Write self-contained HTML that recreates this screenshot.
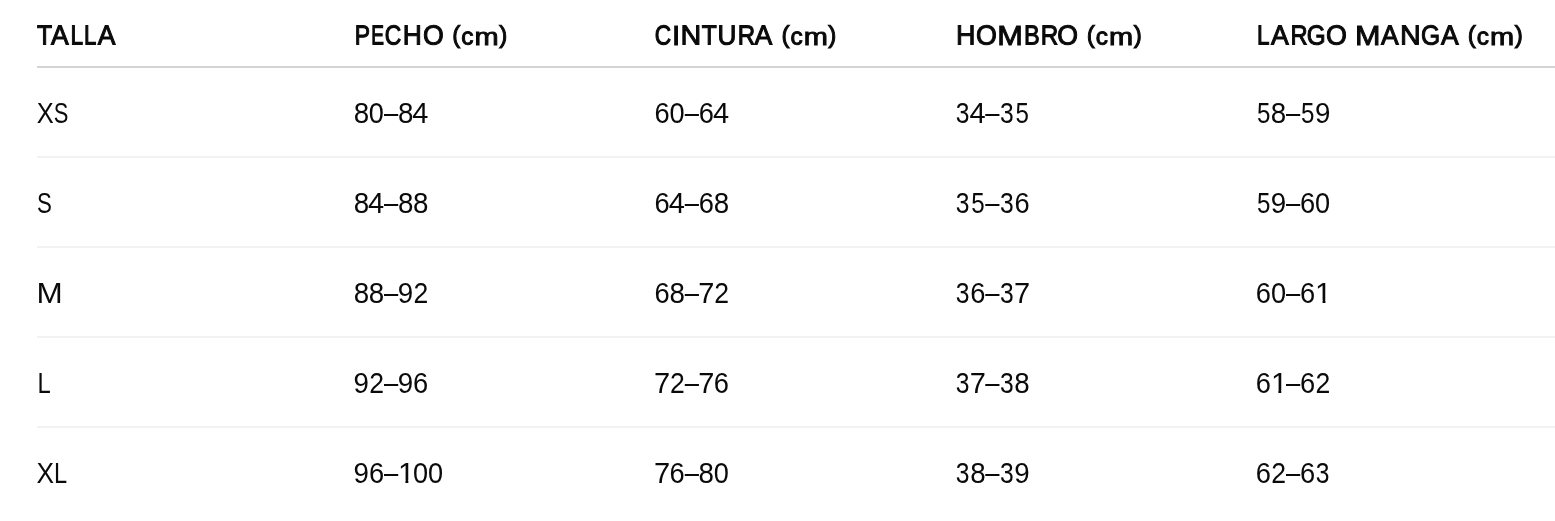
<!DOCTYPE html>
<html><head><meta charset="utf-8">
<style>
html,body{margin:0;padding:0;background:#fff;}
body{width:1555px;height:521px;overflow:hidden;position:relative;font-family:"Liberation Sans",sans-serif;color:#0a0a0a;}
.h{font-weight:bold;}
text{white-space:pre;}
.s{stroke:#0a0a0a;stroke-width:1.0px;vector-effect:non-scaling-stroke;stroke-linejoin:miter;}
.l{position:absolute;left:37px;right:0;background:#f2f2f2;height:2px;}
</style></head><body>
<div class="l" style="top:66px;background:#d4d4d4"></div>
<div class="l" style="top:156px"></div>
<div class="l" style="top:246px"></div>
<div class="l" style="top:336px"></div>
<div class="l" style="top:426px"></div>
<svg width="1555" height="521" viewBox="0 0 1555 521" style="position:absolute;left:0;top:0;will-change:transform" font-family="Liberation Sans, sans-serif" fill="#0a0a0a">
<defs><clipPath id="c230"><rect x="1315.96" y="279" width="11.40" height="21"/><rect x="1322.54" y="300" width="2.92" height="4"/></clipPath><clipPath id="c331"><rect x="1271.78" y="369" width="11.40" height="21"/><rect x="1278.36" y="390" width="2.92" height="4"/></clipPath><clipPath id="c402"><rect x="398.83" y="459" width="11.40" height="21"/><rect x="405.41" y="480" width="2.92" height="4"/></clipPath></defs>
<text class="s" font-size="27.54" transform="matrix(0.8999,0.0005,0,1,37.08,44.50)">T</text><text class="s" font-size="27.54" transform="matrix(0.9629,0.0005,0,1,51.07,44.50)">A</text><text class="s" font-size="27.54" transform="matrix(0.8242,0.0005,0,1,70.48,44.50)">L</text><text class="s" font-size="27.54" transform="matrix(0.8079,0.0005,0,1,84.02,44.50)">L</text><text class="s" font-size="27.54" transform="matrix(0.9629,0.0005,0,1,97.87,44.50)">A</text>
<text class="s" font-size="27.54" transform="matrix(0.8349,0.0005,0,1,354.76,44.50)">P</text><text class="s" font-size="27.54" transform="matrix(0.6930,0.0005,0,1,371.17,44.50)">E</text><text class="s" font-size="27.54" transform="matrix(0.8301,0.0005,0,1,384.86,44.50)">C</text><text class="s" font-size="27.54" transform="matrix(0.9598,0.0005,0,1,402.69,44.50)">H</text><text class="s" font-size="27.54" transform="matrix(0.9702,0.0005,0,1,422.90,44.50)">O</text>
<text class="s" font-size="24.39" transform="matrix(0.9904,0.0005,0,1,452.25,42.98)">(</text><text class="s" font-size="24.07" transform="matrix(1.0143,0.0005,0,1,461.20,44.50)">c</text><text class="s" font-size="24.07" transform="matrix(1.2046,0.0005,0,1,474.51,44.50)">m</text><text class="s" font-size="24.39" transform="matrix(0.9937,0.0005,0,1,499.16,42.98)">)</text>
<text class="s" font-size="27.54" transform="matrix(0.8243,0.0005,0,1,654.77,44.50)">C</text><text class="s" font-size="27.54" transform="matrix(1.0704,0.0005,0,1,672.05,44.50)">I</text><text class="s" font-size="27.54" transform="matrix(1.0441,0.0005,0,1,680.40,44.50)">N</text><text class="s" font-size="27.54" transform="matrix(0.8934,0.0005,0,1,701.68,44.50)">T</text><text class="s" font-size="27.54" transform="matrix(0.9493,0.0005,0,1,717.54,44.50)">U</text><text class="s" font-size="27.54" transform="matrix(0.8740,0.0005,0,1,737.87,44.50)">R</text><text class="s" font-size="27.54" transform="matrix(0.9684,0.0005,0,1,754.47,44.50)">A</text>
<text class="s" font-size="24.39" transform="matrix(0.9904,0.0005,0,1,781.45,42.98)">(</text><text class="s" font-size="24.07" transform="matrix(1.0143,0.0005,0,1,790.40,44.50)">c</text><text class="s" font-size="24.07" transform="matrix(1.2046,0.0005,0,1,803.72,44.50)">m</text><text class="s" font-size="24.39" transform="matrix(0.9937,0.0005,0,1,828.36,42.98)">)</text>
<text class="s" font-size="27.54" transform="matrix(0.9792,0.0005,0,1,956.04,44.50)">H</text><text class="s" font-size="27.54" transform="matrix(0.9755,0.0005,0,1,976.09,44.50)">O</text><text class="s" font-size="27.54" transform="matrix(1.1166,0.0005,0,1,997.34,44.50)">M</text><text class="s" font-size="27.54" transform="matrix(0.8553,0.0005,0,1,1024.02,44.50)">B</text><text class="s" font-size="27.54" transform="matrix(0.8802,0.0005,0,1,1040.66,44.50)">R</text><text class="s" font-size="27.54" transform="matrix(0.9702,0.0005,0,1,1057.30,44.50)">O</text>
<text class="s" font-size="24.39" transform="matrix(0.9904,0.0005,0,1,1086.85,42.98)">(</text><text class="s" font-size="24.07" transform="matrix(1.0143,0.0005,0,1,1095.80,44.50)">c</text><text class="s" font-size="24.07" transform="matrix(1.2046,0.0005,0,1,1109.12,44.50)">m</text><text class="s" font-size="24.39" transform="matrix(0.9937,0.0005,0,1,1133.76,42.98)">)</text>
<text class="s" font-size="27.54" transform="matrix(0.8161,0.0005,0,1,1256.90,44.50)">L</text><text class="s" font-size="27.54" transform="matrix(0.9684,0.0005,0,1,1270.97,44.50)">A</text><text class="s" font-size="27.54" transform="matrix(0.8617,0.0005,0,1,1290.50,44.50)">R</text><text class="s" font-size="27.54" transform="matrix(0.8816,0.0005,0,1,1306.69,44.50)">G</text><text class="s" font-size="27.54" transform="matrix(0.9755,0.0005,0,1,1326.09,44.50)">O</text>
<text class="s" font-size="27.54" transform="matrix(1.1112,0.0005,0,1,1355.05,44.50)">M</text><text class="s" font-size="27.54" transform="matrix(0.9629,0.0005,0,1,1381.07,44.50)">A</text><text class="s" font-size="27.54" transform="matrix(1.0441,0.0005,0,1,1400.00,44.50)">N</text><text class="s" font-size="27.54" transform="matrix(0.8926,0.0005,0,1,1420.97,44.50)">G</text><text class="s" font-size="27.54" transform="matrix(0.9629,0.0005,0,1,1440.97,44.50)">A</text>
<text class="s" font-size="24.39" transform="matrix(0.9904,0.0005,0,1,1467.75,42.98)">(</text><text class="s" font-size="24.07" transform="matrix(1.0143,0.0005,0,1,1476.70,44.50)">c</text><text class="s" font-size="24.07" transform="matrix(1.2046,0.0005,0,1,1490.02,44.50)">m</text><text class="s" font-size="24.39" transform="matrix(0.9937,0.0005,0,1,1514.66,42.98)">)</text>
<text class="d" font-size="29.00" transform="translate(36.76,123) scale(0.8788,1)">X</text><text class="d" font-size="29.00" transform="translate(53.71,123) scale(0.7556,1)">S</text>
<text class="d" font-size="29.0" transform="translate(353.70,123) scale(0.9574,1)">8</text><text class="d" font-size="29.0" transform="translate(368.85,123) scale(0.9365,1)">0</text><text class="d" font-size="29.0" transform="translate(383.98,123) scale(0.8823,1)">–</text><text class="d" font-size="29.0" transform="translate(397.88,123) scale(0.9574,1)">8</text><text class="d" font-size="29.0" transform="translate(412.19,123) scale(1.0000,1)">4</text>
<text class="d" font-size="29.0" transform="translate(654.47,123) scale(0.9408,1)">6</text><text class="d" font-size="29.0" transform="translate(669.53,123) scale(0.9365,1)">0</text><text class="d" font-size="29.0" transform="translate(684.66,123) scale(0.8823,1)">–</text><text class="d" font-size="29.0" transform="translate(698.65,123) scale(0.9408,1)">6</text><text class="d" font-size="29.0" transform="translate(712.88,123) scale(1.0000,1)">4</text>
<text class="d" font-size="29.0" transform="translate(955.82,123) scale(0.8511,1)">3</text><text class="d" font-size="29.0" transform="translate(969.38,123) scale(1.0000,1)">4</text><text class="d" font-size="29.0" transform="translate(985.34,123) scale(0.8823,1)">–</text><text class="d" font-size="29.0" transform="translate(1000.00,123) scale(0.8511,1)">3</text><text class="d" font-size="29.0" transform="translate(1015.52,123) scale(0.8312,1)">5</text>
<text class="d" font-size="29.0" transform="translate(1256.93,123) scale(0.8312,1)">5</text><text class="d" font-size="29.0" transform="translate(1270.83,123) scale(0.9574,1)">8</text><text class="d" font-size="29.0" transform="translate(1286.02,123) scale(0.8823,1)">–</text><text class="d" font-size="29.0" transform="translate(1301.11,123) scale(0.8312,1)">5</text><text class="d" font-size="29.0" transform="translate(1314.91,123) scale(0.9566,1)">9</text>
<text class="d" font-size="29.00" transform="translate(37.00,213) scale(0.7676,1)">S</text>
<text class="d" font-size="29.0" transform="translate(353.70,213) scale(0.9574,1)">8</text><text class="d" font-size="29.0" transform="translate(368.01,213) scale(1.0000,1)">4</text><text class="d" font-size="29.0" transform="translate(383.98,213) scale(0.8823,1)">–</text><text class="d" font-size="29.0" transform="translate(397.88,213) scale(0.9574,1)">8</text><text class="d" font-size="29.0" transform="translate(412.97,213) scale(0.9574,1)">8</text>
<text class="d" font-size="29.0" transform="translate(654.47,213) scale(0.9408,1)">6</text><text class="d" font-size="29.0" transform="translate(668.70,213) scale(1.0000,1)">4</text><text class="d" font-size="29.0" transform="translate(684.66,213) scale(0.8823,1)">–</text><text class="d" font-size="29.0" transform="translate(698.65,213) scale(0.9408,1)">6</text><text class="d" font-size="29.0" transform="translate(713.65,213) scale(0.9574,1)">8</text>
<text class="d" font-size="29.0" transform="translate(955.82,213) scale(0.8511,1)">3</text><text class="d" font-size="29.0" transform="translate(971.34,213) scale(0.8312,1)">5</text><text class="d" font-size="29.0" transform="translate(985.34,213) scale(0.8823,1)">–</text><text class="d" font-size="29.0" transform="translate(1000.00,213) scale(0.8511,1)">3</text><text class="d" font-size="29.0" transform="translate(1014.42,213) scale(0.9408,1)">6</text>
<text class="d" font-size="29.0" transform="translate(1256.93,213) scale(0.8312,1)">5</text><text class="d" font-size="29.0" transform="translate(1270.73,213) scale(0.9566,1)">9</text><text class="d" font-size="29.0" transform="translate(1286.02,213) scale(0.8823,1)">–</text><text class="d" font-size="29.0" transform="translate(1300.01,213) scale(0.9408,1)">6</text><text class="d" font-size="29.0" transform="translate(1315.07,213) scale(0.9365,1)">0</text>
<text class="d" font-size="29.00" transform="translate(36.48,303) scale(1.0859,1)">M</text>
<text class="d" font-size="29.0" transform="translate(353.70,303) scale(0.9574,1)">8</text><text class="d" font-size="29.0" transform="translate(368.79,303) scale(0.9574,1)">8</text><text class="d" font-size="29.0" transform="translate(383.98,303) scale(0.8823,1)">–</text><text class="d" font-size="29.0" transform="translate(397.78,303) scale(0.9566,1)">9</text><text class="d" font-size="29.0" transform="translate(413.49,303) scale(0.9170,1)">2</text>
<text class="d" font-size="29.0" transform="translate(654.47,303) scale(0.9408,1)">6</text><text class="d" font-size="29.0" transform="translate(669.47,303) scale(0.9574,1)">8</text><text class="d" font-size="29.0" transform="translate(684.66,303) scale(0.8823,1)">–</text><text class="d" font-size="29.0" transform="translate(698.16,303) scale(1.0004,1)">7</text><text class="d" font-size="29.0" transform="translate(714.17,303) scale(0.9170,1)">2</text>
<text class="d" font-size="29.0" transform="translate(955.82,303) scale(0.8511,1)">3</text><text class="d" font-size="29.0" transform="translate(970.24,303) scale(0.9408,1)">6</text><text class="d" font-size="29.0" transform="translate(985.34,303) scale(0.8823,1)">–</text><text class="d" font-size="29.0" transform="translate(1000.00,303) scale(0.8511,1)">3</text><text class="d" font-size="29.0" transform="translate(1013.93,303) scale(1.0004,1)">7</text>
<text class="d" font-size="29.0" transform="translate(1255.83,303) scale(0.9408,1)">6</text><text class="d" font-size="29.0" transform="translate(1270.89,303) scale(0.9365,1)">0</text><text class="d" font-size="29.0" transform="translate(1286.02,303) scale(0.8823,1)">–</text><text class="d" font-size="29.0" transform="translate(1300.01,303) scale(0.9408,1)">6</text><g clip-path="url(#c230)"><text class="d" font-size="29.0" transform="translate(1315.09,303) scale(1.0415,1)">1</text></g>
<text class="d" font-size="29.00" transform="translate(37.39,393) scale(0.8214,1)">L</text>
<text class="d" font-size="29.0" transform="translate(353.60,393) scale(0.9566,1)">9</text><text class="d" font-size="29.0" transform="translate(369.31,393) scale(0.9170,1)">2</text><text class="d" font-size="29.0" transform="translate(383.98,393) scale(0.8823,1)">–</text><text class="d" font-size="29.0" transform="translate(397.78,393) scale(0.9566,1)">9</text><text class="d" font-size="29.0" transform="translate(413.06,393) scale(0.9408,1)">6</text>
<text class="d" font-size="29.0" transform="translate(653.98,393) scale(1.0004,1)">7</text><text class="d" font-size="29.0" transform="translate(669.99,393) scale(0.9170,1)">2</text><text class="d" font-size="29.0" transform="translate(684.66,393) scale(0.8823,1)">–</text><text class="d" font-size="29.0" transform="translate(698.16,393) scale(1.0004,1)">7</text><text class="d" font-size="29.0" transform="translate(713.74,393) scale(0.9408,1)">6</text>
<text class="d" font-size="29.0" transform="translate(955.82,393) scale(0.8511,1)">3</text><text class="d" font-size="29.0" transform="translate(969.75,393) scale(1.0004,1)">7</text><text class="d" font-size="29.0" transform="translate(985.34,393) scale(0.8823,1)">–</text><text class="d" font-size="29.0" transform="translate(1000.00,393) scale(0.8511,1)">3</text><text class="d" font-size="29.0" transform="translate(1014.33,393) scale(0.9574,1)">8</text>
<text class="d" font-size="29.0" transform="translate(1255.83,393) scale(0.9408,1)">6</text><g clip-path="url(#c331)"><text class="d" font-size="29.0" transform="translate(1270.91,393) scale(1.0415,1)">1</text></g><text class="d" font-size="29.0" transform="translate(1286.02,393) scale(0.8823,1)">–</text><text class="d" font-size="29.0" transform="translate(1300.01,393) scale(0.9408,1)">6</text><text class="d" font-size="29.0" transform="translate(1315.53,393) scale(0.9170,1)">2</text>
<text class="d" font-size="29.00" transform="translate(36.44,483) scale(0.9066,1)">X</text><text class="d" font-size="29.00" transform="translate(53.91,483) scale(0.8136,1)">L</text>
<text class="d" font-size="29.0" transform="translate(353.60,483) scale(0.9566,1)">9</text><text class="d" font-size="29.0" transform="translate(368.88,483) scale(0.9408,1)">6</text><text class="d" font-size="29.0" transform="translate(383.98,483) scale(0.8823,1)">–</text><g clip-path="url(#c402)"><text class="d" font-size="29.0" transform="translate(397.96,483) scale(1.0415,1)">1</text></g><text class="d" font-size="29.0" transform="translate(413.03,483) scale(0.9365,1)">0</text><text class="d" font-size="29.0" transform="translate(428.12,483) scale(0.9365,1)">0</text>
<text class="d" font-size="29.0" transform="translate(653.98,483) scale(1.0004,1)">7</text><text class="d" font-size="29.0" transform="translate(669.56,483) scale(0.9408,1)">6</text><text class="d" font-size="29.0" transform="translate(684.66,483) scale(0.8823,1)">–</text><text class="d" font-size="29.0" transform="translate(698.56,483) scale(0.9574,1)">8</text><text class="d" font-size="29.0" transform="translate(713.71,483) scale(0.9365,1)">0</text>
<text class="d" font-size="29.0" transform="translate(955.82,483) scale(0.8511,1)">3</text><text class="d" font-size="29.0" transform="translate(970.15,483) scale(0.9574,1)">8</text><text class="d" font-size="29.0" transform="translate(985.34,483) scale(0.8823,1)">–</text><text class="d" font-size="29.0" transform="translate(1000.00,483) scale(0.8511,1)">3</text><text class="d" font-size="29.0" transform="translate(1014.23,483) scale(0.9566,1)">9</text>
<text class="d" font-size="29.0" transform="translate(1255.83,483) scale(0.9408,1)">6</text><text class="d" font-size="29.0" transform="translate(1271.35,483) scale(0.9170,1)">2</text><text class="d" font-size="29.0" transform="translate(1286.02,483) scale(0.8823,1)">–</text><text class="d" font-size="29.0" transform="translate(1300.01,483) scale(0.9408,1)">6</text><text class="d" font-size="29.0" transform="translate(1315.77,483) scale(0.8511,1)">3</text>
</svg>
</body></html>
